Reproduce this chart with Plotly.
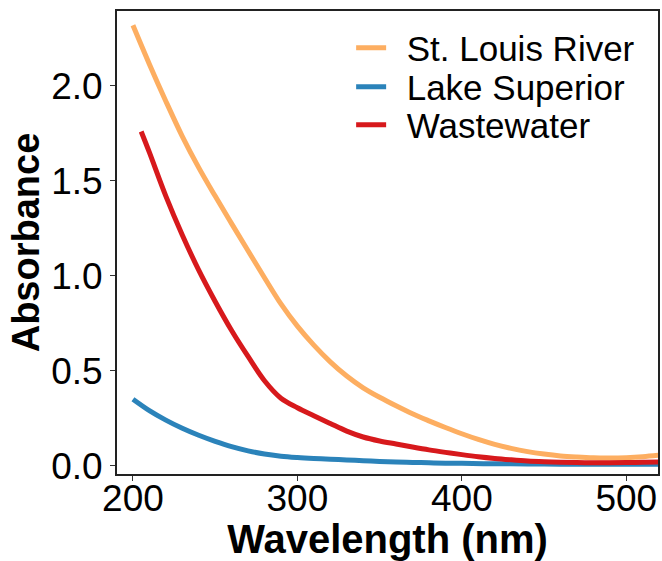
import plotly.graph_objects as go

# Wavelength grids (nm)
wl_river = [200, 210, 220, 230, 240, 250, 260, 270, 280, 290, 300, 310, 320, 330, 340, 350,
            360, 370, 380, 390, 400, 410, 420, 430, 440, 450, 460, 470, 480, 490, 500, 510, 520]
abs_river = [2.32, 2.115, 1.92, 1.735, 1.57, 1.42, 1.275, 1.132, 0.99, 0.852, 0.735, 0.635, 0.547,
             0.472, 0.41, 0.36, 0.315, 0.273, 0.236, 0.201, 0.168, 0.138, 0.112, 0.091, 0.074,
             0.061, 0.051, 0.045, 0.041, 0.04, 0.042, 0.047, 0.055]

wl_lake = [200, 210, 220, 230, 240, 250, 260, 270, 280, 290, 300, 310, 320, 330, 340, 350,
           360, 370, 380, 390, 400, 420, 440, 460, 480, 500, 520]
abs_lake = [0.35, 0.29, 0.24, 0.197, 0.16, 0.128, 0.10, 0.078, 0.061, 0.05, 0.043, 0.038, 0.034,
            0.03, 0.026, 0.022, 0.019, 0.017, 0.015, 0.013, 0.012, 0.01, 0.009, 0.008, 0.007,
            0.007, 0.007]

wl_waste = [205, 210, 220, 230, 240, 250, 260, 270, 280, 290, 300, 310, 320, 330, 340, 350,
            360, 370, 380, 390, 400, 410, 420, 430, 440, 450, 460, 470, 480, 490, 500, 510, 520]
abs_waste = [1.76, 1.65, 1.42, 1.215, 1.03, 0.865, 0.712, 0.575, 0.447, 0.355, 0.305, 0.263, 0.222,
             0.182, 0.151, 0.13, 0.114, 0.098, 0.083, 0.07, 0.058, 0.047, 0.038, 0.031, 0.025,
             0.021, 0.018, 0.016, 0.015, 0.015, 0.016, 0.018, 0.02]

x_ticks = [200, 300, 400, 500]
y_ticks = [0.0, 0.5, 1.0, 1.5, 2.0]
series_names = ["St. Louis River", "Lake Superior", "Wastewater"]

FONT = "Liberation Sans, Arial, sans-serif"
PAD = " \u2006"

fig = go.Figure()
fig.add_trace(go.Scatter(x=wl_river, y=abs_river, mode="lines", name=PAD + series_names[0],
                         legend="legend",
                         line=dict(color="#FDAE61", width=5, shape="spline")))
fig.add_trace(go.Scatter(x=wl_lake, y=abs_lake, mode="lines", name=PAD + series_names[1],
                         legend="legend2",
                         line=dict(color="#2B83BA", width=5, shape="spline")))
fig.add_trace(go.Scatter(x=wl_waste, y=abs_waste, mode="lines", name=PAD + series_names[2],
                         legend="legend3",
                         line=dict(color="#D7191C", width=5, shape="spline")))

def leg(ypix):
    return dict(x=(352 - 117) / 543, y=(474 - ypix) / 463, xanchor="left", yanchor="middle",
                bgcolor="rgba(0,0,0,0)", font=dict(size=35, family=FONT), itemwidth=30)

fig.update_layout(
    width=662, height=561,
    margin=dict(l=117, r=2, t=11, b=87),
    paper_bgcolor="white", plot_bgcolor="white",
    font=dict(family=FONT, color="black"),
    showlegend=True,
    legend=leg(48), legend2=leg(87), legend3=leg(125),
    xaxis=dict(range=[190.3, 519.3], tickvals=x_ticks, ticktext=[str(v) for v in x_ticks],
               showgrid=False, zeroline=False, showline=True, linecolor="#222", linewidth=2,
               mirror=True, ticks="outside", ticklen=5, tickcolor="#333", tickwidth=1,
               ticklabelstandoff=-14,
               tickfont=dict(size=37, family=FONT),
               title=dict(text="<b>Wavelength (nm)</b>", font=dict(size=40, family=FONT), standoff=0)),
    yaxis=dict(range=[-0.044, 2.395], tickvals=y_ticks, ticktext=["%.1f" % v for v in y_ticks],
               showgrid=False, zeroline=False, showline=True, linecolor="#222", linewidth=2,
               mirror=True, ticks="outside", ticklen=5, tickcolor="#333", tickwidth=1,
               tickfont=dict(size=37, family=FONT),
               title=dict(text="<b>Absorbance</b>", font=dict(size=38, family=FONT), standoff=0)),
)

fig.write_html("out.html")
